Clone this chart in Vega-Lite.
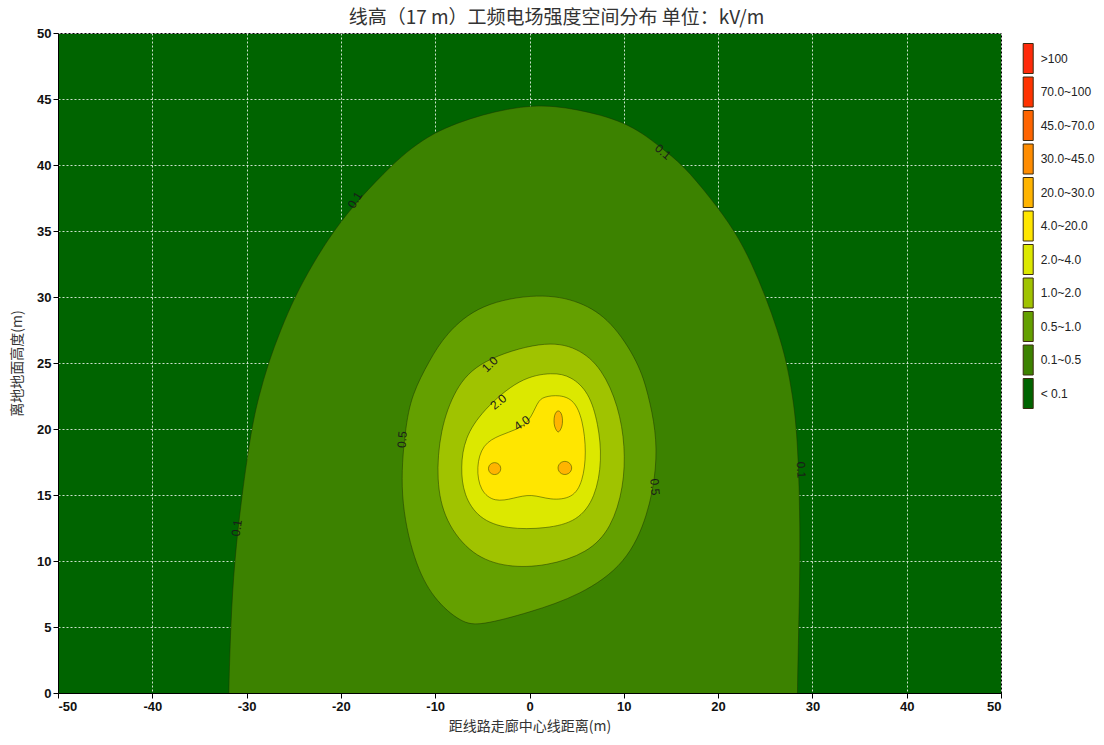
{
  "$schema": "https://vega.github.io/schema/vega-lite/v6.json",
  "width": 943,
  "height": 660,
  "autosize": "none",
  "padding": {"left": 58, "top": 33, "right": 103, "bottom": 52},
  "title": {
    "text": "线高（17 m）工频电场强度空间分布 单位：kV/m",
    "font": "Noto Sans CJK SC",
    "fontSize": 19,
    "fontWeight": "normal",
    "color": "#333333",
    "anchor": "middle",
    "dx": 27,
    "dy": 7,
    "offset": 6
  },
  "config": {
    "view": {"fill": "#006400", "stroke": "#000000", "strokeWidth": 1},
    "axis": {
      "labelFont": "Liberation Sans",
      "labelFontSize": 13,
      "labelFontWeight": "bold",
      "labelColor": "#111111",
      "labelExpr": "replace(datum.label, '\u2212', '-')",
      "titleFont": "Noto Sans CJK SC",
      "titleFontSize": 14,
      "titleFontWeight": "normal",
      "titleColor": "#333333",
      "domainColor": "#000000",
      "tickColor": "#000000",
      "tickSize": 5,
      "gridColor": "#ffffff",
      "gridOpacity": 0.8,
      "gridDash": [2, 2],
      "gridWidth": 1,
      "zindex": 1
    }
  },
  "datasets": {
    "contours": [
      {"poly": "a", "level": "0.1~0.5", "x": -31.9, "y": 0},
      {"poly": "a", "level": "0.1~0.5", "x": -31.7, "y": 5},
      {"poly": "a", "level": "0.1~0.5", "x": -31.3, "y": 10},
      {"poly": "a", "level": "0.1~0.5", "x": -30.5, "y": 15},
      {"poly": "a", "level": "0.1~0.5", "x": -29.5, "y": 20},
      {"poly": "a", "level": "0.1~0.5", "x": -28.7, "y": 22.5},
      {"poly": "a", "level": "0.1~0.5", "x": -27.7, "y": 25},
      {"poly": "a", "level": "0.1~0.5", "x": -26.4, "y": 27.5},
      {"poly": "a", "level": "0.1~0.5", "x": -24.9, "y": 30},
      {"poly": "a", "level": "0.1~0.5", "x": -23.0, "y": 32.5},
      {"poly": "a", "level": "0.1~0.5", "x": -20.8, "y": 35},
      {"poly": "a", "level": "0.1~0.5", "x": -18.0, "y": 37.5},
      {"poly": "a", "level": "0.1~0.5", "x": -14.6, "y": 40},
      {"poly": "a", "level": "0.1~0.5", "x": -12.5, "y": 41.3},
      {"poly": "a", "level": "0.1~0.5", "x": -10.2, "y": 42.4},
      {"poly": "a", "level": "0.1~0.5", "x": -7.6, "y": 43.2},
      {"poly": "a", "level": "0.1~0.5", "x": -5, "y": 43.8},
      {"poly": "a", "level": "0.1~0.5", "x": -2.3, "y": 44.25},
      {"poly": "a", "level": "0.1~0.5", "x": 0.4, "y": 44.5},
      {"poly": "a", "level": "0.1~0.5", "x": 2.7, "y": 44.45},
      {"poly": "a", "level": "0.1~0.5", "x": 5, "y": 44.2},
      {"poly": "a", "level": "0.1~0.5", "x": 7.5, "y": 43.8},
      {"poly": "a", "level": "0.1~0.5", "x": 10, "y": 43.2},
      {"poly": "a", "level": "0.1~0.5", "x": 12, "y": 42.4},
      {"poly": "a", "level": "0.1~0.5", "x": 13.8, "y": 41.4},
      {"poly": "a", "level": "0.1~0.5", "x": 16.3, "y": 40},
      {"poly": "a", "level": "0.1~0.5", "x": 19.2, "y": 37.5},
      {"poly": "a", "level": "0.1~0.5", "x": 21.8, "y": 35},
      {"poly": "a", "level": "0.1~0.5", "x": 23.6, "y": 32.5},
      {"poly": "a", "level": "0.1~0.5", "x": 25.05, "y": 30},
      {"poly": "a", "level": "0.1~0.5", "x": 26.3, "y": 27.5},
      {"poly": "a", "level": "0.1~0.5", "x": 27.3, "y": 25},
      {"poly": "a", "level": "0.1~0.5", "x": 27.9, "y": 22.5},
      {"poly": "a", "level": "0.1~0.5", "x": 28.35, "y": 20},
      {"poly": "a", "level": "0.1~0.5", "x": 28.65, "y": 15},
      {"poly": "a", "level": "0.1~0.5", "x": 28.7, "y": 10},
      {"poly": "a", "level": "0.1~0.5", "x": 28.55, "y": 5},
      {"poly": "a", "level": "0.1~0.5", "x": 28.4, "y": 0},
      {"poly": "a", "level": "0.1~0.5", "x": 28.4, "y": -2},
      {"poly": "a", "level": "0.1~0.5", "x": 28.4, "y": -6},
      {"poly": "a", "level": "0.1~0.5", "x": -31.9, "y": -6},
      {"poly": "a", "level": "0.1~0.5", "x": -31.9, "y": -2},

      {"poly": "b", "level": "0.5~1.0", "x": 1.1, "y": 30.3},
      {"poly": "b", "level": "0.5~1.0", "x": 5.4, "y": 29.7},
      {"poly": "b", "level": "0.5~1.0", "x": 8.7, "y": 28.2},
      {"poly": "b", "level": "0.5~1.0", "x": 11.6, "y": 25},
      {"poly": "b", "level": "0.5~1.0", "x": 12.6, "y": 22.6},
      {"poly": "b", "level": "0.5~1.0", "x": 13.4, "y": 19.9},
      {"poly": "b", "level": "0.5~1.0", "x": 13.5, "y": 17.1},
      {"poly": "b", "level": "0.5~1.0", "x": 12.6, "y": 13.5},
      {"poly": "b", "level": "0.5~1.0", "x": 10.3, "y": 9.8},
      {"poly": "b", "level": "0.5~1.0", "x": 5.4, "y": 7.4},
      {"poly": "b", "level": "0.5~1.0", "x": 0, "y": 6.1},
      {"poly": "b", "level": "0.5~1.0", "x": -5.25, "y": 5.1},
      {"poly": "b", "level": "0.5~1.0", "x": -7.2, "y": 5.3},
      {"poly": "b", "level": "0.5~1.0", "x": -10.2, "y": 7.1},
      {"poly": "b", "level": "0.5~1.0", "x": -12.3, "y": 10},
      {"poly": "b", "level": "0.5~1.0", "x": -13.8, "y": 15},
      {"poly": "b", "level": "0.5~1.0", "x": -13.2, "y": 20},
      {"poly": "b", "level": "0.5~1.0", "x": -12.5, "y": 22.6},
      {"poly": "b", "level": "0.5~1.0", "x": -10.6, "y": 25.2},
      {"poly": "b", "level": "0.5~1.0", "x": -8.9, "y": 27.2},
      {"poly": "b", "level": "0.5~1.0", "x": -5.3, "y": 29.5},

      {"poly": "c", "level": "1.0~2.0", "x": 1.5, "y": 26.7},
      {"poly": "c", "level": "1.0~2.0", "x": 5.1, "y": 26.2},
      {"poly": "c", "level": "1.0~2.0", "x": 7.7, "y": 24.6},
      {"poly": "c", "level": "1.0~2.0", "x": 9.45, "y": 21.7},
      {"poly": "c", "level": "1.0~2.0", "x": 10.15, "y": 18.7},
      {"poly": "c", "level": "1.0~2.0", "x": 10.0, "y": 15.6},
      {"poly": "c", "level": "1.0~2.0", "x": 8.7, "y": 12.5},
      {"poly": "c", "level": "1.0~2.0", "x": 6.2, "y": 10.6},
      {"poly": "c", "level": "1.0~2.0", "x": 1.8, "y": 9.6},
      {"poly": "c", "level": "1.0~2.0", "x": -2.4, "y": 9.5},
      {"poly": "c", "level": "1.0~2.0", "x": -6.1, "y": 10.4},
      {"poly": "c", "level": "1.0~2.0", "x": -9.0, "y": 13.0},
      {"poly": "c", "level": "1.0~2.0", "x": -9.9, "y": 16.1},
      {"poly": "c", "level": "1.0~2.0", "x": -9.5, "y": 19.9},
      {"poly": "c", "level": "1.0~2.0", "x": -7.9, "y": 23.1},
      {"poly": "c", "level": "1.0~2.0", "x": -5.3, "y": 25.2},

      {"poly": "d", "level": "2.0~4.0", "x": 2.5, "y": 24.3},
      {"poly": "d", "level": "2.0~4.0", "x": 4.4, "y": 24.0},
      {"poly": "d", "level": "2.0~4.0", "x": 6.3, "y": 22.8},
      {"poly": "d", "level": "2.0~4.0", "x": 7.3, "y": 20.4},
      {"poly": "d", "level": "2.0~4.0", "x": 7.7, "y": 17.65},
      {"poly": "d", "level": "2.0~4.0", "x": 7.0, "y": 14.8},
      {"poly": "d", "level": "2.0~4.0", "x": 5.1, "y": 13.0},
      {"poly": "d", "level": "2.0~4.0", "x": 1.8, "y": 12.45},
      {"poly": "d", "level": "2.0~4.0", "x": -2.4, "y": 12.4},
      {"poly": "d", "level": "2.0~4.0", "x": -5.4, "y": 13.2},
      {"poly": "d", "level": "2.0~4.0", "x": -7.0, "y": 15.0},
      {"poly": "d", "level": "2.0~4.0", "x": -7.3, "y": 17.1},
      {"poly": "d", "level": "2.0~4.0", "x": -6.9, "y": 19.3},
      {"poly": "d", "level": "2.0~4.0", "x": -5.0, "y": 21.4},
      {"poly": "d", "level": "2.0~4.0", "x": -1.0, "y": 23.9},

      {"poly": "e", "level": "4.0~20.0", "x": 1.46, "y": 22.45},
      {"poly": "e", "level": "4.0~20.0", "x": 3.2, "y": 22.6},
      {"poly": "e", "level": "4.0~20.0", "x": 4.75, "y": 22.2},
      {"poly": "e", "level": "4.0~20.0", "x": 5.65, "y": 20.7},
      {"poly": "e", "level": "4.0~20.0", "x": 6.05, "y": 18.2},
      {"poly": "e", "level": "4.0~20.0", "x": 5.65, "y": 16.0},
      {"poly": "e", "level": "4.0~20.0", "x": 4.6, "y": 14.75},
      {"poly": "e", "level": "4.0~20.0", "x": 2.2, "y": 14.6},
      {"poly": "e", "level": "4.0~20.0", "x": 0.2, "y": 15.1},
      {"poly": "e", "level": "4.0~20.0", "x": -1.7, "y": 14.75},
      {"poly": "e", "level": "4.0~20.0", "x": -3.7, "y": 14.45},
      {"poly": "e", "level": "4.0~20.0", "x": -5.25, "y": 15.3},
      {"poly": "e", "level": "4.0~20.0", "x": -5.65, "y": 17.1},
      {"poly": "e", "level": "4.0~20.0", "x": -5.0, "y": 18.85},
      {"poly": "e", "level": "4.0~20.0", "x": -3.1, "y": 19.55},
      {"poly": "e", "level": "4.0~20.0", "x": -1.35, "y": 19.95},
      {"poly": "e", "level": "4.0~20.0", "x": 0.0, "y": 20.55},
      {"poly": "e", "level": "4.0~20.0", "x": 0.85, "y": 22.05},

      {"poly": "s1", "level": "20.0~30.0", "x": -3.02, "y": 17.0},
      {"poly": "s1", "level": "20.0~30.0", "x": -3.11, "y": 17.24},
      {"poly": "s1", "level": "20.0~30.0", "x": -3.36, "y": 17.41},
      {"poly": "s1", "level": "20.0~30.0", "x": -3.7, "y": 17.47},
      {"poly": "s1", "level": "20.0~30.0", "x": -4.04, "y": 17.41},
      {"poly": "s1", "level": "20.0~30.0", "x": -4.29, "y": 17.24},
      {"poly": "s1", "level": "20.0~30.0", "x": -4.38, "y": 17.0},
      {"poly": "s1", "level": "20.0~30.0", "x": -4.29, "y": 16.76},
      {"poly": "s1", "level": "20.0~30.0", "x": -4.04, "y": 16.59},
      {"poly": "s1", "level": "20.0~30.0", "x": -3.7, "y": 16.53},
      {"poly": "s1", "level": "20.0~30.0", "x": -3.36, "y": 16.59},
      {"poly": "s1", "level": "20.0~30.0", "x": -3.11, "y": 16.76},

      {"poly": "s2", "level": "20.0~30.0", "x": 4.51, "y": 17.05},
      {"poly": "s2", "level": "20.0~30.0", "x": 4.4, "y": 17.31},
      {"poly": "s2", "level": "20.0~30.0", "x": 4.13, "y": 17.5},
      {"poly": "s2", "level": "20.0~30.0", "x": 3.75, "y": 17.57},
      {"poly": "s2", "level": "20.0~30.0", "x": 3.37, "y": 17.5},
      {"poly": "s2", "level": "20.0~30.0", "x": 3.1, "y": 17.31},
      {"poly": "s2", "level": "20.0~30.0", "x": 2.99, "y": 17.05},
      {"poly": "s2", "level": "20.0~30.0", "x": 3.1, "y": 16.79},
      {"poly": "s2", "level": "20.0~30.0", "x": 3.37, "y": 16.6},
      {"poly": "s2", "level": "20.0~30.0", "x": 3.75, "y": 16.53},
      {"poly": "s2", "level": "20.0~30.0", "x": 4.13, "y": 16.6},
      {"poly": "s2", "level": "20.0~30.0", "x": 4.4, "y": 16.79},

      {"poly": "s3", "level": "20.0~30.0", "x": 3.52, "y": 20.62},
      {"poly": "s3", "level": "20.0~30.0", "x": 3.46, "y": 21.02},
      {"poly": "s3", "level": "20.0~30.0", "x": 3.29, "y": 21.3},
      {"poly": "s3", "level": "20.0~30.0", "x": 3.05, "y": 21.4},
      {"poly": "s3", "level": "20.0~30.0", "x": 2.81, "y": 21.3},
      {"poly": "s3", "level": "20.0~30.0", "x": 2.64, "y": 21.02},
      {"poly": "s3", "level": "20.0~30.0", "x": 2.58, "y": 20.62},
      {"poly": "s3", "level": "20.0~30.0", "x": 2.64, "y": 20.2},
      {"poly": "s3", "level": "20.0~30.0", "x": 2.84, "y": 19.9},
      {"poly": "s3", "level": "20.0~30.0", "x": 3.05, "y": 19.72},
      {"poly": "s3", "level": "20.0~30.0", "x": 3.26, "y": 19.9},
      {"poly": "s3", "level": "20.0~30.0", "x": 3.46, "y": 20.2}
    ],
    "labels": [
      {"label": "0.1", "x": -18.5, "y": 37.35, "rot": -58},
      {"label": "0.1", "x": 14.15, "y": 41.0, "rot": 40},
      {"label": "0.1", "x": -31.05, "y": 12.5, "rot": -82},
      {"label": "0.1", "x": 28.8, "y": 16.9, "rot": 88},
      {"label": "0.5", "x": -13.5, "y": 19.2, "rot": -85},
      {"label": "0.5", "x": 13.3, "y": 15.6, "rot": 85},
      {"label": "1.0", "x": -4.2, "y": 24.9, "rot": -45},
      {"label": "2.0", "x": -3.3, "y": 22.05, "rot": -40},
      {"label": "4.0", "x": -0.8, "y": 20.45, "rot": -35}
    ]
  },
  "layer": [
    {
      "data": {"name": "contours"},
      "mark": {
        "type": "line",
        "interpolate": "basis-closed",
        "clip": true,
        "stroke": "#1a3000",
        "strokeWidth": 0.8,
        "strokeOpacity": 0.6
      },
      "encoding": {
        "x": {
          "field": "x",
          "type": "quantitative",
          "scale": {"domain": [-50, 50], "nice": false, "zero": false},
          "axis": {"values": [-50, -40, -30, -20, -10, 0, 10, 20, 30, 40, 50], "title": "距线路走廊中心线距离(m)", "titlePadding": 6}
        },
        "y": {
          "field": "y",
          "type": "quantitative",
          "scale": {"domain": [0, 50], "nice": false, "zero": false},
          "axis": {"values": [0, 5, 10, 15, 20, 25, 30, 35, 40, 45, 50], "title": "离地地面高度(m)", "titlePadding": 12}
        },
        "detail": {"field": "poly", "type": "nominal"},
        "order": {"value": null},
        "fill": {
          "field": "level",
          "type": "nominal",
          "scale": {
            "domain": [">100", "70.0~100", "45.0~70.0", "30.0~45.0", "20.0~30.0", "4.0~20.0", "2.0~4.0", "1.0~2.0", "0.5~1.0", "0.1~0.5", "< 0.1"],
            "range": ["#ff2a0a", "#ff3300", "#ff6400", "#ff8c00", "#ffb400", "#ffe600", "#dce800", "#a0c300", "#64a000", "#3c8200", "#006400"]
          },
          "legend": {
            "title": null,
            "orient": "none",
            "legendX": 944.7,
            "legendY": 10,
            "padding": 0,
            "symbolType": "M0.333,-1H1V1H0.333Z",
            "symbolSize": 900,
            "symbolStrokeColor": "#3a2a10",
            "symbolStrokeWidth": 1,
            "symbolOpacity": 1,
            "rowPadding": -1.5,
            "labelOffset": 7,
            "labelFont": "Liberation Sans",
            "labelFontSize": 12,
            "labelColor": "#222222",
            "labelLimit": 100
          }
        }
      }
    },
    {
      "data": {"name": "labels"},
      "mark": {"type": "text", "font": "Liberation Sans", "fontSize": 12, "color": "#1a1a1a", "baseline": "middle", "align": "center"},
      "encoding": {
        "x": {"field": "x", "type": "quantitative"},
        "y": {"field": "y", "type": "quantitative"},
        "text": {"field": "label", "type": "nominal"},
        "angle": {"field": "rot", "type": "quantitative", "scale": null}
      }
    }
  ]
}
